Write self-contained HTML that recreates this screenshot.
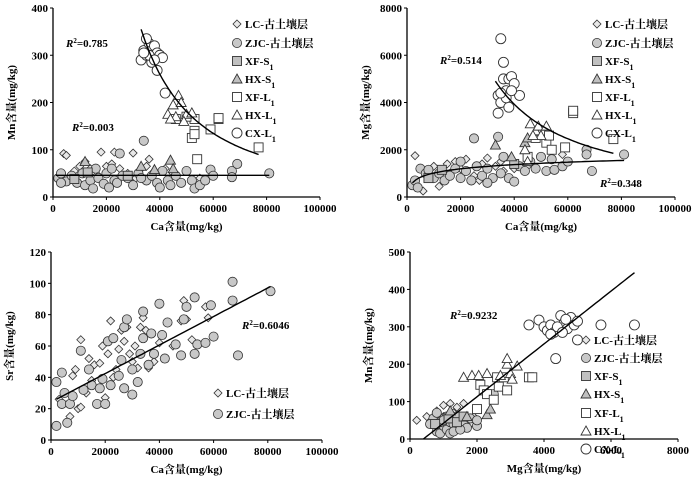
<!DOCTYPE html>
<html><head><meta charset="utf-8"><style>
body{margin:0;background:#fff}
svg{display:block;font-family:"Liberation Serif","Noto Serif CJK SC",serif}
.tk{font-size:11px;font-weight:bold}
.tt{font-size:11px;font-weight:bold}
.lg{font-size:11px;font-weight:bold}
</style></head><body>
<svg id="c" width="700" height="479" viewBox="0 0 700 479" xmlns="http://www.w3.org/2000/svg"></svg>
<script>
// ---- Panel A: Ca vs Mn ----
const aLC=[[4000,92],[5000,88],[18000,95],[23000,95],[30000,93],[36000,80],[10000,65],[12000,75],[15000,55],[20000,65],[25000,60],[28000,50],[33000,60],[38000,55],[42000,60],[8000,55],[22000,70],[26000,45],[31000,40],[35000,65],[45000,50],[50000,55],[55000,40],[17000,45],[14000,60]];
const aZJC=[[2000,40],[3000,50],[5000,33],[7000,45],[9000,30],[11000,50],[12000,25],[14000,35],[15000,18],[17000,40],[19000,28],[20000,50],[22000,60],[23000,35],[24000,30],[25000,92],[26000,45],[28000,40],[30000,25],[32000,50],[34000,119],[35000,35],[37000,45],[39000,30],[41000,55],[43000,35],[44000,25],[46000,45],[48000,30],[50000,55],[52000,35],[53000,18],[55000,25],[57000,35],[59000,58],[60000,45],[67000,55],[67000,42],[69000,70],[81000,50],[3000,30],[16000,60],[21000,20],[33000,40],[40000,20]];
const aXFS=[[8000,38],[13000,52],[28000,45]];
const aHXS=[[12000,75],[33000,65],[44000,78],[45000,60],[38000,58]];
const aXFL=[[52000,125],[53000,140],[53000,133],[54000,80],[59000,143],[62000,165],[62000,167],[77000,105],[53000,165],[50000,170],[46000,165]];
const aHXL=[[43000,175],[45000,195],[47000,215],[48000,200],[46000,170],[50000,175],[52000,178],[49000,160],[44000,165]];
const aCXL=[[33000,290],[34000,310],[35000,300],[36000,325],[35000,335],[37000,310],[38000,320],[39000,305],[37000,285],[36000,300],[40000,300],[41000,295],[39000,268],[42000,220],[34000,305],[38000,290]];
// ---- Panel B: Ca vs Mg ----
const bLC=[[3000,1750],[6000,250],[12000,450],[15000,1400],[18000,1500],[22000,1600],[30000,1650],[10000,1300],[20000,1200],[25000,900],[28000,1400],[33000,1300],[36000,1100],[40000,1200],[45000,1300],[58000,1800],[8000,900],[16000,1000],[27000,700],[35000,1500]];
const bZJC=[[2000,500],[3000,700],[5000,1200],[7000,1000],[8000,1150],[10000,800],[12000,1000],[14000,700],[16000,900],[18000,1200],[20000,800],[22000,1100],[24000,700],[25000,2480],[26000,1300],[28000,900],[30000,1200],[32000,800],[34000,2550],[35000,1000],[36000,1700],[38000,800],[40000,650],[42000,1300],[44000,1100],[46000,1500],[48000,1200],[50000,1700],[52000,1100],[54000,1600],[55000,1150],[58000,1300],[60000,1500],[67000,2000],[67000,1800],[69000,1100],[81000,1800],[4000,400],[20000,1500],[30000,600]];
const bXFS=[[8000,800],[13000,1150],[40000,1400]];
const bHXS=[[33000,2200],[44000,2300],[45000,2500],[39000,1700]];
const bXFL=[[48000,2500],[50000,2800],[52000,2300],[53000,2600],[54000,2000],[59000,2100],[62000,3550],[62000,3650],[77000,2450],[45000,1700]];
const bHXL=[[46000,3100],[48000,2800],[49000,3000],[50000,2600],[52000,3000],[44000,2000],[47000,2600],[45000,1500]];
const bCXL=[[35000,6700],[36000,5700],[34000,4300],[35000,4000],[36000,5000],[37000,4500],[38000,5000],[39000,5100],[40000,4800],[38000,3800],[34000,3550],[42000,4300],[37000,4200],[39000,4500],[35000,4400]];
// ---- Panel C: Ca vs Sr ----
const cLC=[[3000,26],[7000,15],[8000,41],[9000,45],[10000,20],[11000,64],[11000,21],[13000,30],[14000,52],[16000,48],[18000,49],[19000,60],[20000,27],[21000,55],[22000,76],[23000,40],[25000,58],[26000,70],[27000,63],[28000,72],[30000,50],[31000,60],[32000,46],[33000,72],[34000,78],[35000,70],[36000,46],[38000,50],[40000,62],[43000,75],[45000,60],[48000,76],[49000,89],[50000,77],[52000,64],[57000,85],[58000,78],[15000,38],[24000,45],[29000,55]];
const cZJC=[[2000,37],[2000,9],[4000,43],[4000,23],[5000,30],[6000,11],[7000,23],[8000,28],[11000,57],[12000,32],[14000,45],[15000,35],[17000,23],[18000,33],[19000,39],[20000,23],[21000,63],[22000,35],[23000,65],[25000,41],[26000,51],[27000,33],[27000,72],[28000,77],[30000,29],[32000,37],[33000,55],[34000,82],[34000,65],[36000,48],[37000,68],[40000,87],[41000,67],[42000,52],[43000,75],[46000,61],[48000,54],[49000,77],[50000,85],[53000,91],[53000,55],[54000,61],[57000,62],[59000,86],[60000,66],[67000,101],[67000,89],[69000,54],[81000,95],[30000,45],[38000,55]];
// ---- Panel D: Mg vs Mn ----
const dLC=[[200,50],[500,60],[800,75],[1000,90],[1200,95],[1400,85],[1600,95],[1800,40],[1000,60],[1300,70],[1500,55],[1700,45],[700,45],[900,35],[1100,50],[2000,50],[1400,35],[1900,60]];
const dZJC=[[700,55],[800,20],[900,15],[1000,35],[1100,25],[1200,45],[1200,15],[1300,40],[1400,30],[1500,50],[1600,40],[1700,30],[1100,60],[900,45],[600,40],[1300,20],[1800,55],[2000,35],[1500,25],[2500,120],[2000,50],[800,70],[1000,50],[1400,60]];
const dXFS=[[750,40],[1150,55],[1400,45],[1600,60]];
const dHXS=[[1200,75],[2300,65],[2400,80],[1700,60]];
const dXFL=[[2100,145],[2200,130],[2300,120],[2500,105],[2600,165],[2000,80],[2650,140],[2900,130],[3550,165],[3650,165],[2800,165]];
const dHXL=[[1600,165],[1850,170],[2050,170],[2300,175],[2700,170],[2900,200],[2900,215],[3200,195],[3000,175],[3050,160]];
const dCXL=[[3550,305],[3850,318],[4000,300],[4100,290],[4200,305],[4300,285],[4350,215],[4500,330],[4600,310],[4700,295],[4800,325],[4900,305],[5000,315],[5000,265],[5700,305],[6700,305],[4400,300],[4550,285],[4650,320],[4200,280]];
// tick labels
const caTicks=[0,20000,40000,60000,80000,100000];
const mnTicks=[0,100,200,300,400];
const mgTicks=[0,2000,4000,6000,8000];
const srTicks=[0,20,40,60,80,100,120];
const mn5Ticks=[0,100,200,300,400,500];
const mgXTicks=[0,2000,4000,6000,8000];
// fits
const aFitPow=[33000,77000,355,-1.62];
const aFitFlat=[1000,81000,46];
const bFitPow=[33000,77000,4900,-1.15];
const bFitLog=[2000,81000,600,257];
const cFitLin=[2000,81000,26,0.000911];
const dFitLin=[400,6700,0,0.0706];

const S=document.getElementById('c');const NS='http://www.w3.org/2000/svg';
function mk(t,a,p){const e=document.createElementNS(NS,t);for(const k in a)e.setAttribute(k,a[k]);(p||S).appendChild(e);return e;}
function txt(x,y,s,cls,anchor,p){const e=mk('text',{x:x,y:y,class:cls,'text-anchor':anchor||'start'},p);e.innerHTML=s;return e;}
function panel(name,box,xd,yd,xt,yt,xtitle,ytitle){
  const g=mk('g',{});
  
  
  const X=v=>box.x0+(v-xd[0])/(xd[1]-xd[0])*(box.x1-box.x0);
  const Y=v=>box.y0-(v-yd[0])/(yd[1]-yd[0])*(box.y0-box.y1);
  const ax=mk('path',{d:`M${box.x0},${box.y1}V${box.y0}H${box.x1}`,stroke:'#000','stroke-width':1.3,fill:'none'},g);
  
  
  xt.forEach(v=>{mk('line',{x1:X(v),x2:X(v),y1:box.y0,y2:box.y0+3,stroke:'#000'},g);
    const t=txt(X(v),box.y0+15,v,'tk','middle',g);
    
    });
  yt.forEach(v=>{mk('line',{x1:box.x0-3,x2:box.x0,y1:Y(v),y2:Y(v),stroke:'#000'},g);
    const t=txt(box.x0-5,Y(v)+4,v,'tk','end',g);
    
    });
  const xl=txt((box.x0+box.x1)/2,box.y0+33,xtitle,'tt','middle',g);
  
  
  const cy=(box.y0+box.y1)/2, tx=box.x0-38;
  const yl=txt(tx,cy,ytitle,'tt','middle',g);yl.setAttribute('transform',`rotate(-90 ${tx} ${cy})`);
  
  
  return {g,X,Y};
}
function marker(g,type,x,y){
  let e;
  if(type==='dia'){e=mk('path',{d:`M${x},${y-4}L${x+4},${y}L${x},${y+4}L${x-4},${y}Z`,fill:'#e8e8e8',stroke:'#333','stroke-width':0.8},g);}
  else if(type==='gcir'){e=mk('circle',{cx:x,cy:y,r:4.6,fill:'#c8c8c8',stroke:'#333','stroke-width':0.8},g);}
  else if(type==='wcir'){e=mk('circle',{cx:x,cy:y,r:5,fill:'#fff',stroke:'#333','stroke-width':0.9},g);}
  else if(type==='gsq'){e=mk('rect',{x:x-4.5,y:y-4.5,width:9,height:9,fill:'#c0c0c0',stroke:'#333','stroke-width':0.9},g);}
  else if(type==='wsq'){e=mk('rect',{x:x-4.5,y:y-4.5,width:9,height:9,fill:'#fff',stroke:'#333','stroke-width':0.9},g);}
  else if(type==='gtri'){e=mk('path',{d:`M${x},${y-5}L${x+5},${y+4}L${x-5},${y+4}Z`,fill:'#c0c0c0',stroke:'#333','stroke-width':0.9},g);}
  else {e=mk('path',{d:`M${x},${y-5}L${x+5},${y+4}L${x-5},${y+4}Z`,fill:'#fff',stroke:'#333','stroke-width':0.9},g);}
  return e;
}
function series(p,arr,type,name){
  arr.forEach(d=>{const e=marker(p.g,type,p.X(d[0]),p.Y(d[1]));
    
    });
}
function curve(p,f,x0,x1,name){
  let d='';for(let i=0;i<=60;i++){const x=x0+(x1-x0)*i/60;d+=(i?'L':'M')+p.X(x).toFixed(1)+','+p.Y(f(x)).toFixed(1);}
  const e=mk('path',{d:d,stroke:'#000','stroke-width':1.4,fill:'none'},p.g);
  
  
}
const LBL=[['dia','LC-古土壤层'],['gcir','ZJC-古土壤层'],['gsq','XF-S<tspan baseline-shift="sub" font-size="8">1</tspan>'],['gtri','HX-S<tspan baseline-shift="sub" font-size="8">1</tspan>'],['wsq','XF-L<tspan baseline-shift="sub" font-size="8">1</tspan>'],['wtri','HX-L<tspan baseline-shift="sub" font-size="8">1</tspan>'],['wcir','CX-L<tspan baseline-shift="sub" font-size="8">1</tspan>']];
function legend(p,x,ys,n){
  for(let i=0;i<n;i++){const m=marker(p.g,LBL[i][0],x,ys[i]);
    
    
    const t=txt(x+8,ys[i]+4,LBL[i][1],'lg','start',p.g);
    
    }
}
function r2(p,x,y,v,name){const t=txt(x,y,'<tspan font-style="italic">R</tspan><tspan baseline-shift="super" font-size="7">2</tspan>='+v,'tk','start',p.g);
  
  }
function all7(p,arrs){const t=['dia','gcir','gsq','gtri','wsq','wtri','wcir'],n=['lc-points','zjc-points','xf-s1-points','hx-s1-points','xf-l1-points','hx-l1-points','cx-l1-points'];arrs.forEach((a,i)=>series(p,a,t[i],n[i]));}

// Panel A
const A=panel('panel-ca-mn',{x0:53,x1:320,y0:197,y1:8},[0,100000],[0,400],caTicks,mnTicks,'Ca含量(mg/kg)','Mn含量(mg/kg)');
all7(A,[aLC,aZJC,aXFS,aHXS,aXFL,aHXL,aCXL]);
curve(A,x=>aFitPow[2]*Math.pow(x/aFitPow[0],aFitPow[3]),aFitPow[0],aFitPow[1],'power-fit-line');
curve(A,x=>aFitFlat[2],aFitFlat[0],aFitFlat[1],'flat-fit-line');
legend(A,237,[24,43,61,79,97,115,133],7);
r2(A,66,47,'0.785','r2-label-upper');r2(A,72,131,'0.003','r2-label-lower');
// Panel B
const B=panel('panel-ca-mg',{x0:407,x1:675,y0:197,y1:8},[0,100000],[0,8000],caTicks,mgTicks,'Ca含量(mg/kg)','Mg含量(mg/kg)');
all7(B,[bLC,bZJC,bXFS,bHXS,bXFL,bHXL,bCXL]);
curve(B,x=>bFitPow[2]*Math.pow(x/bFitPow[0],bFitPow[3]),bFitPow[0],bFitPow[1],'power-fit-line');
curve(B,x=>bFitLog[2]+bFitLog[3]*Math.log(x/bFitLog[0]),bFitLog[0],bFitLog[1],'log-fit-line');
legend(B,597,[24,43,61,79,97,115,133],7);
r2(B,440,64,'0.514','r2-label-upper');r2(B,600,187,'0.348','r2-label-lower');
// Panel C
const C=panel('panel-ca-sr',{x0:51,x1:322,y0:440,y1:252},[0,100000],[0,120],caTicks,srTicks,'Ca含量(mg/kg)','Sr含量(mg/kg)');
series(C,cLC,'dia','lc-points');series(C,cZJC,'gcir','zjc-points');
curve(C,x=>cFitLin[2]+cFitLin[3]*(x-cFitLin[0]),cFitLin[0],cFitLin[1],'linear-fit-line');
legend(C,218,[393,414],2);
r2(C,242,329,'0.6046','r2-label');
// Panel D
const D=panel('panel-mg-mn',{x0:410,x1:678,y0:439,y1:252},[0,8000],[0,500],mgXTicks,mn5Ticks,'Mg含量(mg/kg)','Mn含量(mg/kg)');
all7(D,[dLC,dZJC,dXFS,dHXS,dXFL,dHXL,dCXL]);
curve(D,x=>dFitLin[2]+dFitLin[3]*(x-dFitLin[0]),dFitLin[0],dFitLin[1],'linear-fit-line');
legend(D,586,[340,358,376,394,413,431,449],7);
r2(D,450,319,'0.9232','r2-label');
</script>
</body></html>
